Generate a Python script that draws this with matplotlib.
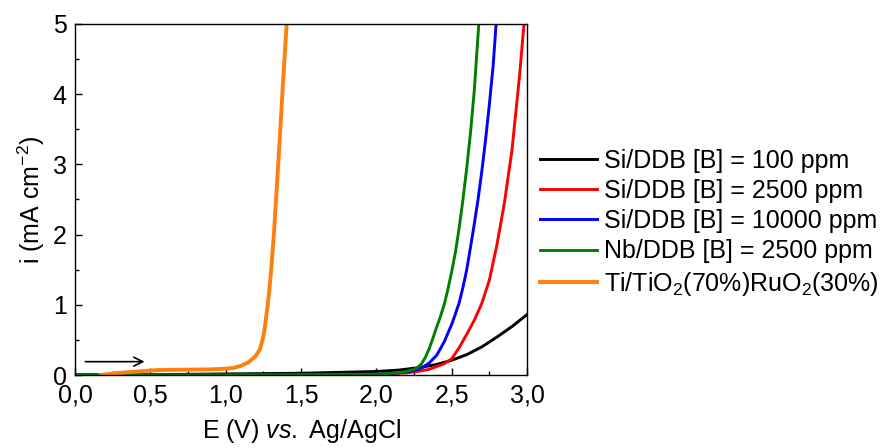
import matplotlib
matplotlib.use("Agg")
import matplotlib.pyplot as plt
from matplotlib.ticker import MultipleLocator

plt.rcParams["font.family"] = ["Liberation Sans", "DejaVu Sans"]
plt.rcParams["mathtext.fontset"] = "custom"
plt.rcParams["mathtext.rm"] = "Liberation Sans"
plt.rcParams["mathtext.it"] = "Liberation Sans:italic"
plt.rcParams["mathtext.bf"] = "Liberation Sans:bold"

# data (E in V vs Ag/AgCl, i in mA cm-2)
si100_e = [0.0, 0.5, 1.0, 1.5, 2.0, 2.15, 2.3, 2.4, 2.5, 2.6, 2.7, 2.8, 2.9, 3.0]
si100_i = [0.0, 0.005, 0.015, 0.025, 0.05, 0.07, 0.11, 0.15, 0.21, 0.29, 0.40, 0.54, 0.69, 0.86]

si2500_e = [0.0, 1.0, 2.0, 2.2, 2.3, 2.35, 2.4, 2.45, 2.5, 2.55, 2.6, 2.65, 2.7, 2.75,
            2.8, 2.85, 2.9, 2.95, 2.98]
si2500_i = [0.0, 0.0, 0.01, 0.03, 0.06, 0.08, 0.12, 0.16, 0.23, 0.39, 0.58, 0.78, 1.02, 1.35,
            1.85, 2.45, 3.20, 4.25, 5.0]

si10000_e = [0.0, 1.0, 2.0, 2.2, 2.25, 2.3, 2.35, 2.4, 2.45, 2.5, 2.525, 2.55, 2.575, 2.6,
             2.625, 2.65, 2.675, 2.7, 2.725, 2.75, 2.775, 2.795]
si10000_i = [0.0, 0.0, 0.01, 0.04, 0.06, 0.10, 0.17, 0.28, 0.47, 0.72, 0.87, 1.03, 1.25, 1.50,
             1.82, 2.15, 2.50, 2.90, 3.35, 3.85, 4.40, 5.0]

nb2500_e = [0.0, 1.0, 2.0, 2.1, 2.2, 2.25, 2.275, 2.3, 2.325, 2.35, 2.375, 2.4, 2.425, 2.45,
            2.475, 2.5, 2.525, 2.55, 2.575, 2.6, 2.625, 2.65, 2.68]
nb2500_i = [0.0, 0.0, 0.01, 0.025, 0.05, 0.08, 0.11, 0.16, 0.25, 0.37, 0.52, 0.68, 0.83, 1.00,
            1.22, 1.47, 1.75, 2.10, 2.50, 2.95, 3.45, 4.05, 5.0]

ruo2_e = [0.17, 0.25, 0.35, 0.45, 0.55, 0.7, 0.9, 1.0, 1.05, 1.1, 1.15, 1.2, 1.23, 1.25,
          1.26, 1.27, 1.28, 1.29, 1.30, 1.32, 1.34, 1.36, 1.38, 1.405]
ruo2_i = [0.0, 0.02, 0.04, 0.055, 0.07, 0.075, 0.08, 0.09, 0.10, 0.13, 0.18, 0.27, 0.38, 0.55,
          0.68, 0.85, 1.02, 1.22, 1.45, 2.0, 2.7, 3.4, 4.15, 5.0]

labels = ["Si/DDB [B] = 100 ppm", "Si/DDB [B] = 2500 ppm", "Si/DDB [B] = 10000 ppm",
          "Nb/DDB [B] = 2500 ppm", "Ti/TiO$_2$(70%)RuO$_2$(30%)"]
colors = ["black", "#ff0000", "#0000ff", "#008000", "#ff7f0e"]

xticks = [0.0, 0.5, 1.0, 1.5, 2.0, 2.5, 3.0]
xtick_labels = ["0,0", "0,5", "1,0", "1,5", "2,0", "2,5", "3,0"]
yticks = [0, 1, 2, 3, 4, 5]

fig = plt.figure(figsize=(8.8, 4.48), dpi=100)
ax = fig.add_axes([75 / 880, 73 / 448, 452 / 880, 351 / 448])

series = [(si100_e, si100_i), (si2500_e, si2500_i), (si10000_e, si10000_i),
          (nb2500_e, nb2500_i), (ruo2_e, ruo2_i)]
for (e, i), lab, c in zip(series, labels, colors):
    lw = 2.8 if c == "#ff7f0e" else 2.1
    ax.plot(e, i, color=c, lw=lw, label=lab, solid_joinstyle="round")

ax.annotate("", xy=(0.48, 0.19), xytext=(0.05, 0.19),
            arrowprops=dict(arrowstyle="->", color="black", lw=1.2, mutation_scale=16))

ax.set_xlim(0, 3.0)
ax.set_ylim(0, 5)
ax.set_xticks(xticks)
ax.set_xticklabels(xtick_labels)
ax.set_yticks(yticks)
ax.xaxis.set_minor_locator(MultipleLocator(0.25))
ax.yaxis.set_minor_locator(MultipleLocator(0.5))
ax.tick_params(which="both", direction="in", top=False, right=False, labelsize=18, width=1)
ax.tick_params(which="major", length=5, pad=6)
ax.tick_params(which="minor", length=3)
for s in ax.spines.values():
    s.set_linewidth(1.0)

ax.set_xlabel(r"$\mathrm{E\ (V)}\ \mathit{vs.}\ \mathrm{Ag/AgCl}$", fontsize=18, labelpad=7)
ax.set_ylabel(r"i (mA cm$^{-2}$)", fontsize=18, labelpad=4)

fig.legend(loc="center left", bbox_to_anchor=(540 / 880, 0.502), frameon=False, fontsize=18,
           handlelength=2.28, handletextpad=0.28, labelspacing=0.25, borderpad=0, borderaxespad=0)

fig.savefig("out.png", dpi=100)
